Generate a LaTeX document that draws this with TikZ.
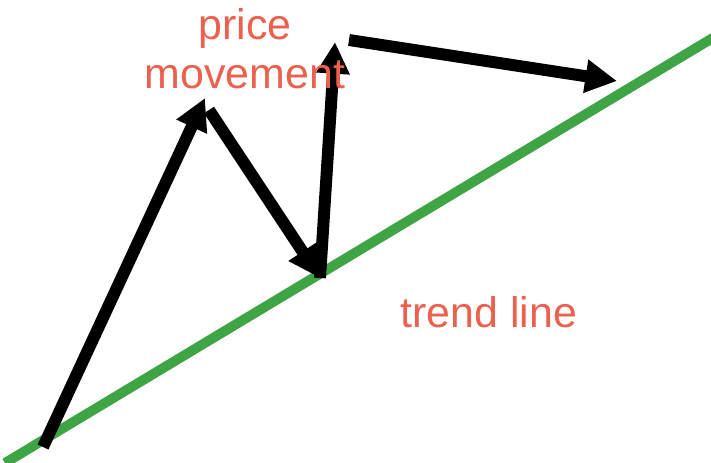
\documentclass[tikz,border=0pt]{standalone}
\usepackage{fontspec}
\setmainfont{Liberation Sans}
\usepackage{xcolor}
\usetikzlibrary{arrows.meta}
\definecolor{rotulo}{RGB}{236,96,78}
\definecolor{verde}{RGB}{62,164,68}
\tikzset{
  tendencia/.style={draw=verde, line width=10pt*0.28},
  seta/.style={-{Triangle[length=9pt, width=9pt]}, line width=3.4pt, black},
  texto/.style={text=rotulo, font=\fontsize{12.2pt}{13.2pt}\selectfont, align=center, inner sep=0pt},
}
\begin{document}
\begin{tikzpicture}[x=0.01cm, y=-0.01cm]
  \useasboundingbox (0,0) rectangle (711,463);
  % trend line
  \coordinate (t0) at (5,463);
  \coordinate (t1) at (716,36);
  \draw[tendencia] (t0) -- (t1);

  % price movement
  \coordinate (p0) at (43,447);
  \coordinate (p1) at (205,98);
  \coordinate (p2) at (209,110);
  \coordinate (p3) at (320,278);
  \coordinate (p4) at (335,42);
  \coordinate (p5) at (349,40);
  \coordinate (p6) at (617,81);
  \draw[seta] (p0) -- (p1);
  \draw[seta] (p2) -- (p3);
  \draw[seta] (p3) -- (p4);
  \draw[seta] (p5) -- (p6);

  \node[texto] (preco) at (245,28) {price};
  \node[texto] (movimento) at (245,75) {movement};
  \node[texto] (linha) at (489,312) {trend line};
\end{tikzpicture}
\end{document}
